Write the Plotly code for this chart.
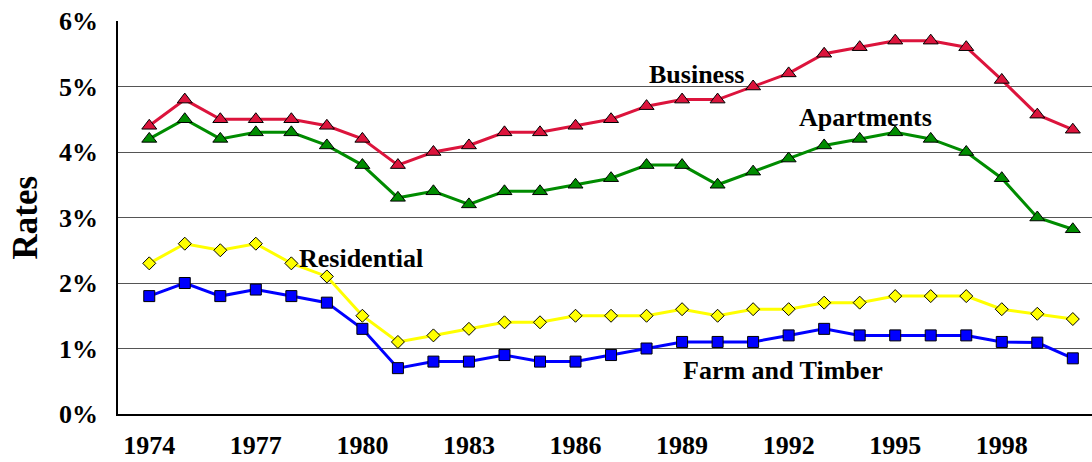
import plotly.graph_objects as go

years = list(range(1974, 2001))

business = [4.4, 4.8, 4.5, 4.5, 4.5, 4.4, 4.2, 3.8, 4.0, 4.1, 4.3, 4.3, 4.4, 4.5,
            4.7, 4.8, 4.8, 5.0, 5.2, 5.5, 5.6, 5.7, 5.7, 5.6, 5.1, 4.57, 4.34]
apartments = [4.2, 4.5, 4.2, 4.3, 4.3, 4.1, 3.8, 3.3, 3.4, 3.2, 3.4, 3.4, 3.5, 3.6,
              3.8, 3.8, 3.5, 3.7, 3.9, 4.1, 4.2, 4.3, 4.2, 4.0, 3.6, 3.0, 2.82]
residential = [2.3, 2.6, 2.5, 2.6, 2.3, 2.1, 1.5, 1.1, 1.2, 1.3, 1.4, 1.4, 1.5, 1.5,
               1.5, 1.6, 1.5, 1.6, 1.6, 1.7, 1.7, 1.8, 1.8, 1.8, 1.6, 1.53, 1.45]
farm_timber = [1.8, 2.0, 1.8, 1.9, 1.8, 1.7, 1.3, 0.7, 0.8, 0.8, 0.9, 0.8, 0.8, 0.9,
               1.0, 1.1, 1.1, 1.1, 1.2, 1.3, 1.2, 1.2, 1.2, 1.2, 1.1, 1.09, 0.85]

x_ticks = [1974, 1977, 1980, 1983, 1986, 1989, 1992, 1995, 1998]
y_ticks = [0, 1, 2, 3, 4, 5, 6]
y_labels = ["0%", "1%", "2%", "3%", "4%", "5%", "6%"]

FONT = "Liberation Serif, Times New Roman, serif"

fig = go.Figure()

series = [
    ("Residential", residential, "#FFFF00", "diamond", 10),
    ("Farm and Timber", farm_timber, "#0000FF", "square", 11),
    ("Apartments", apartments, "#008C00", "triangle-up", 13),
    ("Business", business, "#DC143C", "triangle-up", 13),
]
for name, vals, color, sym, size in series:
    fig.add_trace(go.Scatter(
        x=years, y=vals, name=name, mode="lines+markers",
        line=dict(color=color, width=3),
        marker=dict(symbol=sym, size=size, color=color,
                    line=dict(color="black", width=1)),
    ))

labels = [
    ("Business", 1989.4, 5.18),
    ("Apartments", 1994.16, 4.52),
    ("Residential", 1979.96, 2.38),
    ("Farm and Timber", 1991.85, 0.67),
]
for text, lx, ly in labels:
    fig.add_annotation(x=lx, y=ly, text="<b>" + text + "</b>", showarrow=False,
                       font=dict(family=FONT, size=26, color="black"))

fig.add_annotation(xref="paper", yref="paper", x=-0.0945, y=0.5, text="<b>Rates</b>",
                   textangle=-90, showarrow=False, xanchor="center", yanchor="middle",
                   font=dict(family=FONT, size=35, color="black"))

fig.update_layout(
    width=1092, height=462,
    margin=dict(l=118, r=0, t=21, b=48),
    paper_bgcolor="white", plot_bgcolor="white",
    showlegend=False,
    font=dict(family=FONT, color="black"),
)
fig.update_xaxes(
    range=[1973.12, 2000.54], tickmode="array", tickvals=x_ticks,
    ticktext=["<b>%d</b>" % y for y in x_ticks],
    showgrid=False, zeroline=False, automargin=False,
    showline=True, linecolor="black", linewidth=1.5,
    ticks="", ticklabelstandoff=7,
    tickfont=dict(family=FONT, size=26, color="black"),
)
fig.update_yaxes(
    range=[0, 6], tickmode="array", tickvals=y_ticks,
    ticktext=["<b>" + t + "</b>" for t in y_labels],
    showgrid=True, gridcolor="#555555", gridwidth=1, zeroline=False, automargin=False,
    showline=True, linecolor="black", linewidth=1.5,
    ticks="", ticklabelstandoff=13,
    tickfont=dict(family=FONT, size=26, color="black"),
)

# page has a default body margin; drop it so the figure fills the window
fig.write_html("out.html", config={"displayModeBar": False},
               post_script="document.body.style.margin='0';")
